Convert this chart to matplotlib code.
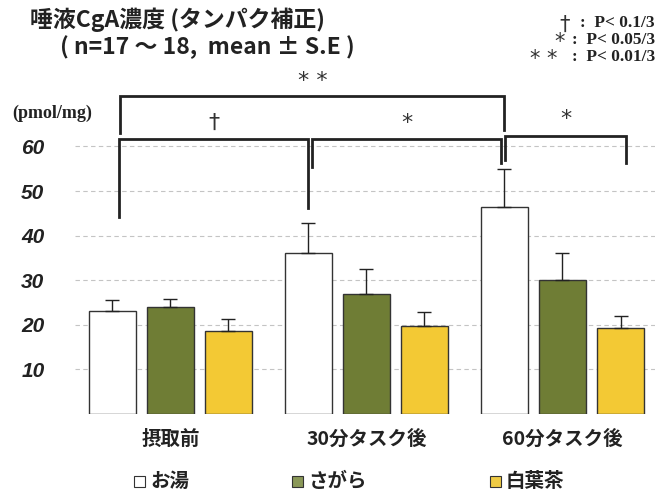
import matplotlib
matplotlib.use("Agg")
import matplotlib.pyplot as plt
from matplotlib.patches import Rectangle
import numpy as np

plt.rcParams['font.family'] = ['Noto Sans CJK JP', 'DejaVu Sans']

# Salivary CgA (protein-corrected), mean and upper S.E.
groups = ['摂取前', '30分タスク後', '60分タスク後']
series = ['お湯', 'さがら', '白葉茶']
means = {
    'お湯':   [23.1, 36.1, 46.4],
    'さがら': [24.0, 26.9, 30.0],
    '白葉茶': [18.6, 19.7, 19.3],
}
errs = {
    'お湯':   [2.5, 6.7, 8.5],
    'さがら': [1.8, 5.6, 6.1],
    '白葉茶': [2.7, 3.2, 2.7],
}
colors = {'お湯': '#ffffff', 'さがら': '#6f7d35', '白葉茶': '#f3c934'}
legend_colors = {'お湯': '#ffffff', 'さがら': '#8a9858', '白葉茶': '#efcb45'}
yticks = [10, 20, 30, 40, 50, 60]

# significance brackets: (bar i, bar j, top, left drop, right drop, mark)
brackets = [
    ((0, 0), (2, 0), 71.3, 63.0, 63.7, '* *'),
    ((0, 0), (1, 0), 61.7, 44.2, 46.2, '†'),
    ((1, 0), (2, 0), 61.7, 55.4, 56.3, '*'),
    ((2, 0), (2, 2), 62.4, 57.0, 56.3, '*'),
]

W, H = 659, 494
fig = plt.figure(figsize=(W / 100, H / 100), dpi=100)
ax_l, ax_r, ax_b = 75, 655, 414
ymax = 75
ax_t = ax_b - ymax * 4.46
ax = fig.add_axes([ax_l / W, 1 - ax_b / H, (ax_r - ax_l) / W, (ax_b - ax_t) / H])

step = 0.296
width = 0.24
x = np.arange(len(groups))
for k, s in enumerate(series):
    pos = x + (k - 1) * step
    ax.bar(pos, means[s], width=width, color=colors[s], edgecolor='#333333',
           linewidth=1.0, zorder=3)
    ax.errorbar(pos, means[s], yerr=[np.zeros(len(groups)), errs[s]], fmt='none',
                ecolor='#222222', elinewidth=1.0, capsize=5, capthick=1.0, zorder=4)

ax.set_xlim(-0.487, 2.472)
ax.set_ylim(0, ymax)
ax.set_yticks(yticks)
ax.set_yticklabels([str(v) for v in yticks])
for lab in ax.get_yticklabels():
    lab.set_fontfamily(['Liberation Sans'])
    lab.set_fontstyle('italic')
    lab.set_fontweight('bold')
    lab.set_fontsize(15)
    lab.set_color('#222222')
ax.tick_params(axis='y', length=0, pad=22)
ax.set_xticks(x)
ax.set_xticklabels(groups, fontsize=14, fontweight='bold', color='#222222')
ax.tick_params(axis='x', length=0, pad=11)
for sp in ax.spines.values():
    sp.set_visible(False)
ax.yaxis.grid(True, linestyle=(0, (4, 3)), color='#c4c4c4', linewidth=0.8, zorder=0)
ax.set_axisbelow(True)

def bar_x(gi, si):
    return gi + (si - 1) * step

for (g1, s1), (g2, s2), top, yl, yr, mark in brackets:
    x1 = bar_x(g1, s1) + 0.04
    x2 = bar_x(g2, s2) + (0.03 if s2 == 2 else 0.0)
    if mark == '†':
        x1 = bar_x(g1, s1) + 0.035
    if mark == '*' and g1 == 1:
        x1 = bar_x(g1, s1) + 0.02
        x2 = bar_x(g2, s2) - 0.02
    if mark == '*' and g1 == 2:
        x1 = bar_x(g1, s1) + 0.005
    ax.plot([x1, x1, x2, x2], [yl, top, top, yr], color='#222222', lw=2.0,
            clip_on=False, zorder=5, solid_joinstyle='miter')
    ty = top + (1.4 if mark != '* *' else 1.2)
    ax.text((x1 + x2) / 2, ty, mark, ha='center', va='bottom', fontsize=16,
            color='#333333', family=['DejaVu Sans'], clip_on=False)

# titles
fig.text(30 / W, 1 - 20 / H, '唾液CgA濃度 (タンパク補正)', fontsize=16.5, fontweight='bold',
         ha='left', va='center', color='#222222')
fig.text(60 / W, 1 - 47 / H, '( n=17 ～ 18,  mean ± S.E )', fontsize=16.5, fontweight='bold',
         ha='left', va='center', color='#222222')

# significance key
key = [('†', ':  P< 0.1/3', 23, 570), ('*', ':  P< 0.05/3', 40, 565), ('* *', ':  P< 0.01/3', 57, 557)]
for sym, txt, py, sx in key:
    fig.text(655 / W, 1 - py / H, txt, fontsize=12.5, fontweight='bold', ha='right',
             va='center', family=['Liberation Serif'], color='#222222')
    fig.text(sx / W, 1 - (py + 2) / H, sym, fontsize=15,
             ha='right', va='center', family=['DejaVu Sans'], color='#333333')

fig.text(12 / W, 1 - 113 / H, '(pmol/mg)', fontsize=13, fontweight='bold', ha='left',
         va='center', family=['Liberation Serif'], color='#222222')

# legend
leg_x = [134, 292, 490]
for s, lx in zip(series, leg_x):
    fig.patches.append(Rectangle((lx / W, 1 - 487 / H), 11 / W, 11 / H,
                                 transform=fig.transFigure, facecolor=legend_colors[s],
                                 edgecolor='#333333', linewidth=0.8))
    fig.text((lx + 16) / W, 1 - 481 / H, s, fontsize=14, fontweight='bold', ha='left',
             va='center', color='#222222')

fig.savefig('out.png', dpi=100)
